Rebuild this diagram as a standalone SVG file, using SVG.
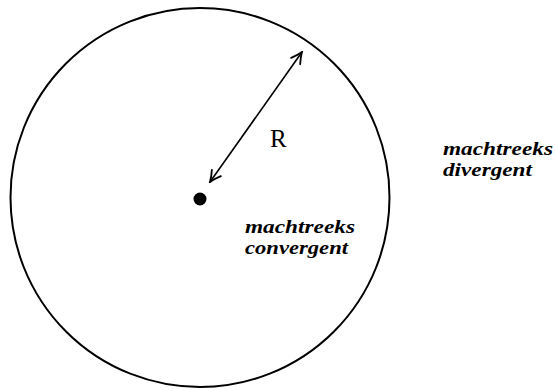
<svg xmlns="http://www.w3.org/2000/svg" width="555" height="390" viewBox="0 0 555 390">
<defs>
<style>
.script{font-family:"Liberation Serif","DejaVu Serif",serif;font-style:italic;font-weight:bold;font-size:19px;fill:#000}
.lbl{font-family:"Liberation Serif","DejaVu Serif",serif;font-size:25px;fill:#000}
</style>
<marker id="arr" viewBox="0 0 14 14" refX="12.5" refY="7" markerWidth="14" markerHeight="14" markerUnits="userSpaceOnUse" orient="auto-start-reverse">
<path d="M1.5,1.5 Q8,5.5 12.5,7 Q8,8.5 1.5,12.5" fill="none" stroke="#000" stroke-width="1.8" stroke-linecap="round"/>
</marker>
</defs>
<rect width="555" height="390" fill="#fff"/>
<g id="circle"><circle cx="200" cy="197.5" r="189.5" fill="none" stroke="#000" stroke-width="2"/></g>
<g id="center"><circle cx="200" cy="199" r="6.5" fill="#000"/></g>
<g id="connectors">
<line x1="210" y1="182" x2="302" y2="52" stroke="#000" stroke-width="1.6" marker-start="url(#arr)" marker-end="url(#arr)"/>
</g>
<g id="label-R"><text class="lbl" x="270" y="147">R</text></g>
<g id="convergent">
<text class="script" x="245" y="233" textLength="110" lengthAdjust="spacingAndGlyphs">machtreeks</text>
<text class="script" x="245" y="254" textLength="103" lengthAdjust="spacingAndGlyphs">convergent</text>
</g>
<g id="divergent">
<text class="script" x="443" y="155" textLength="110" lengthAdjust="spacingAndGlyphs">machtreeks</text>
<text class="script" x="443" y="176" textLength="89" lengthAdjust="spacingAndGlyphs">divergent</text>
</g>
</svg>
